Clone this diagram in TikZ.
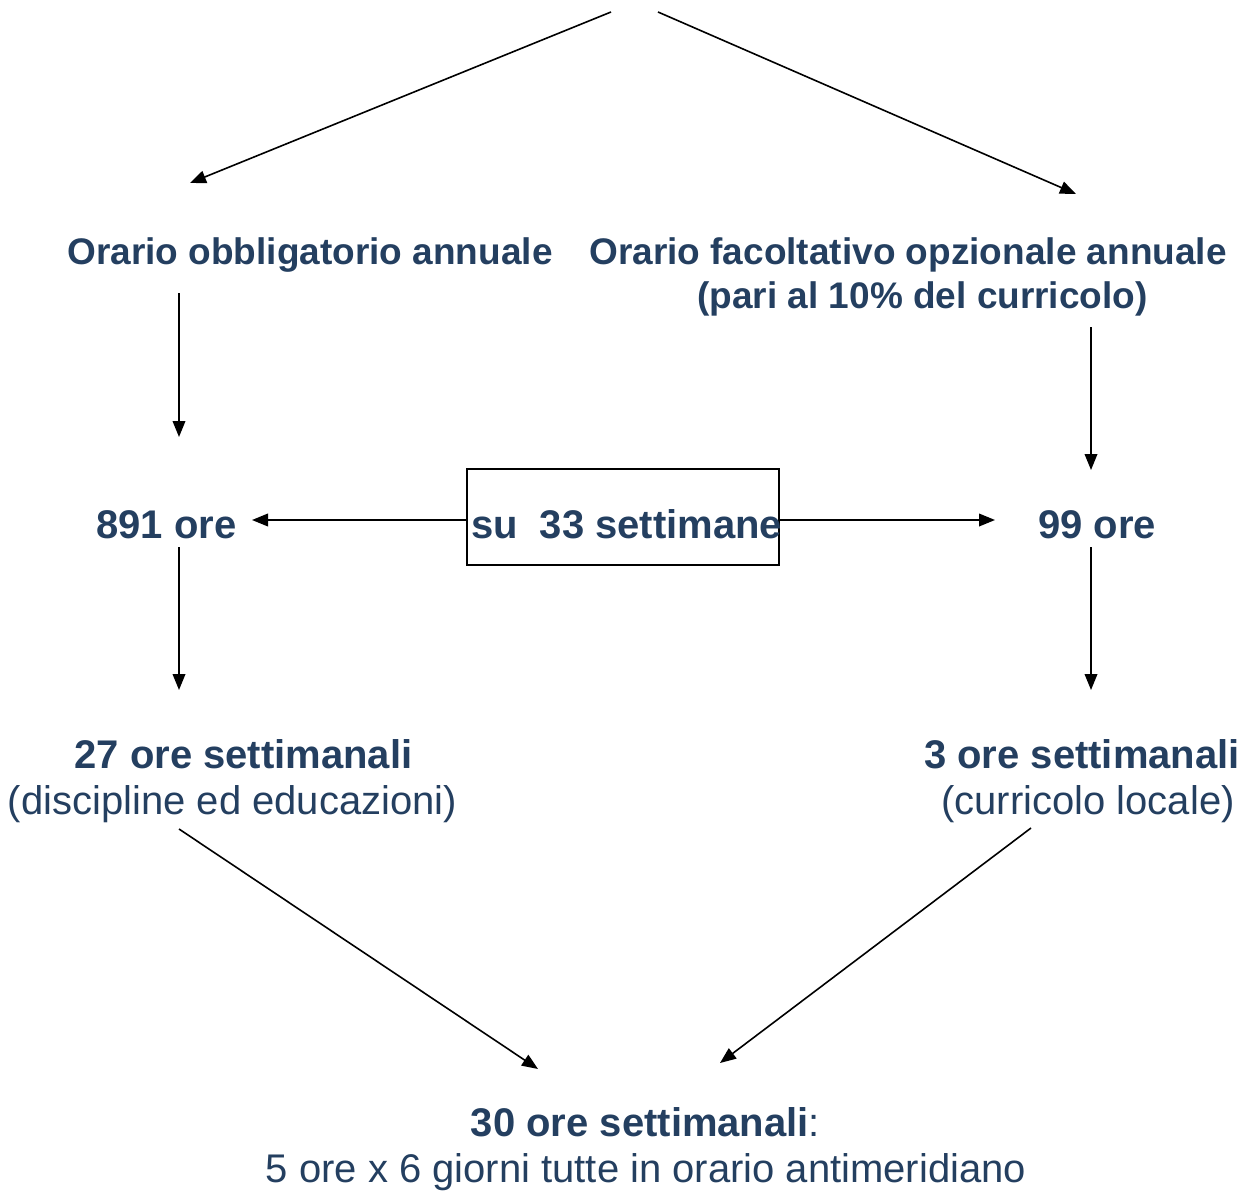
\documentclass[tikz,border=0pt]{standalone}
\usepackage{fontspec}
\setmainfont{Liberation Sans}
\usetikzlibrary{arrows.meta,calc}
\definecolor{txtblue}{HTML}{243F60}
\begin{document}
\begin{tikzpicture}[x=0.75pt,y=-0.75pt,
  lbl/.style={inner sep=0pt,outer sep=0pt,anchor=base,text=txtblue},
  big/.style={lbl,font=\fontsize{30pt}{34.5pt}\selectfont},
  mid/.style={lbl,font=\fontsize{27.75pt}{32pt}\selectfont},
  arr/.style={line width=1.2pt,-{Triangle[length=12pt,width=9.5pt]}},
  framebox/.style={draw,line width=1.2pt,inner sep=0pt,minimum width=234pt,minimum height=72pt}]
\useasboundingbox (0,0) rectangle (1252,1191);

% texts
\node[mid] (obl) at (310,265) {\bfseries Orario obbligatorio annuale};
\node[mid] (fac) at (908,265) {\bfseries Orario facoltativo opzionale annuale};
\node[mid] (facb) at (922.5,308) {\bfseries (pari al 10\% del curricolo)};
\node[big] (n891) at (166.5,538) {\bfseries 891 ore};
\node[big] (n99) at (1097,538) {\bfseries 99 ore};
\node[framebox] (box) at (623,517) {};
\node[big,anchor=base west] (boxtxt) at (471,538) {\bfseries su~~33 settimane};
\node[big] (n27) at (243.5,768) {\bfseries 27 ore settimanali};
\node[big] (disc) at (232.5,814) {(discipline ed educazioni)};
\node[big] (n3) at (1082,768) {\bfseries 3 ore settimanali};
\node[big] (curr) at (1088,814) {(curricolo locale)};
\node[big] (n30) at (645.5,1136) {\textbf{30 ore settimanali}:};
\node[big] (n30b) at (646,1182) {5 ore x 6 giorni tutte in orario antimeridiano};

% free top ends
\coordinate (top1) at (611,12);
\coordinate (top2) at (658,12);

% connectors
\draw[arr] (top1) -- ($(obl.base)+(-120,-82)$);
\draw[arr] (top2) -- ($(fac.base)+(168,-71)$);
\draw[arr] ($(obl.base)+(-131,28)$) -- ($(n891.base)+(12.5,-101)$);
\draw[arr] ($(facb.base)+(168.5,19)$) -- ($(n99.base)+(-6,-68)$);
\draw[arr] ($(box.west)+(0,3)$) -- ($(n891.base)+(85.5,-18)$);
\draw[arr] ($(box.east)+(0,3)$) -- ($(n99.base)+(-102,-18)$);
\draw[arr] ($(n891.base)+(12.5,9)$) -- ($(n27.base)+(-64.5,-78)$);
\draw[arr] ($(n99.base)+(-6,9)$) -- ($(n3.base)+(9,-78)$);
\draw[arr] ($(disc.base)+(-53.5,15)$) -- ($(n30.base)+(-107.5,-67)$);
\draw[arr] ($(curr.base)+(-57,14)$) -- ($(n30.base)+(74.5,-73)$);
\end{tikzpicture}
\end{document}
